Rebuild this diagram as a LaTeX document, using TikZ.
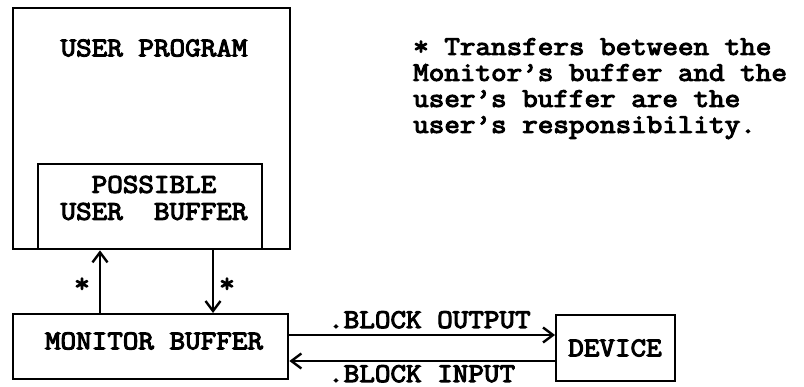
\documentclass[tikz,border=0pt]{standalone}
\usepackage{fontspec}
\setmainfont[FakeBold=4, FakeStretch=1.12]{Latin Modern Mono}
\usetikzlibrary{arrows.meta}
\begin{document}
\begin{tikzpicture}[x=1pt,y=-1pt,
  every node/.style={font=\fontsize{27}{27}\selectfont, inner sep=0pt},
  box/.style={draw, line width=2.4pt, rectangle, anchor=north west},
  arr/.style={line width=2.2pt, -{Straight Barb[length=10pt,width=15pt,line width=2.4pt]}},
  lbl/.style={align=center, anchor=center}]
  \useasboundingbox (0,0) rectangle (804,387);

  % user program with its buffer
  \node[box, minimum width=277pt, minimum height=241pt] (prog) at (12,7) {};
  \node[lbl] (progtxt) at (154,48) {USER PROGRAM};
  \node[box, minimum width=224pt, minimum height=85pt] (buf) at (37,163) {};
  \node[lbl] (buftxt) at (154,198) {POSSIBLE\\USER\ \ BUFFER};

  % monitor buffer and device
  \node[box, minimum width=275pt, minimum height=65pt] (mon) at (12,313) {};
  \node[lbl] (montxt) at (154,341) {MONITOR BUFFER};
  \node[box, minimum width=119pt, minimum height=66pt] (dev) at (555,314) {};
  \node[lbl] (devtxt) at (615,348) {DEVICE};

  % transfers between monitor buffer and user buffer
  \coordinate (upx) at (100,0);
  \coordinate (dnx) at (213,0);
  \draw[arr] (mon.north -| upx) -- (buf.south -| upx);
  \draw[arr] (buf.south -| dnx) -- (mon.north -| dnx);
  \node (staru) at (82,285) {*};
  \node (stard) at (227,285) {*};

  % block transfers to and from the device
  \coordinate (outy) at (0,335);
  \coordinate (iny) at (0,361);
  \draw[arr] (mon.east |- outy) -- (dev.west |- outy);
  \draw[arr] (dev.west |- iny) -- (mon.east |- iny);
  \node[anchor=base west] (outlbl) at (328,328) {.BLOCK OUTPUT};
  \node[anchor=base west] (inlbl) at (328,382) {.BLOCK INPUT};

  % footnote
  \node[anchor=north west, align=left, font=\fontsize{27}{26}\selectfont] (note) at (413,38)
    {* Transfers between the\\Monitor's buffer and the\\user's buffer are the\\user's responsibility.};
\end{tikzpicture}
\end{document}
